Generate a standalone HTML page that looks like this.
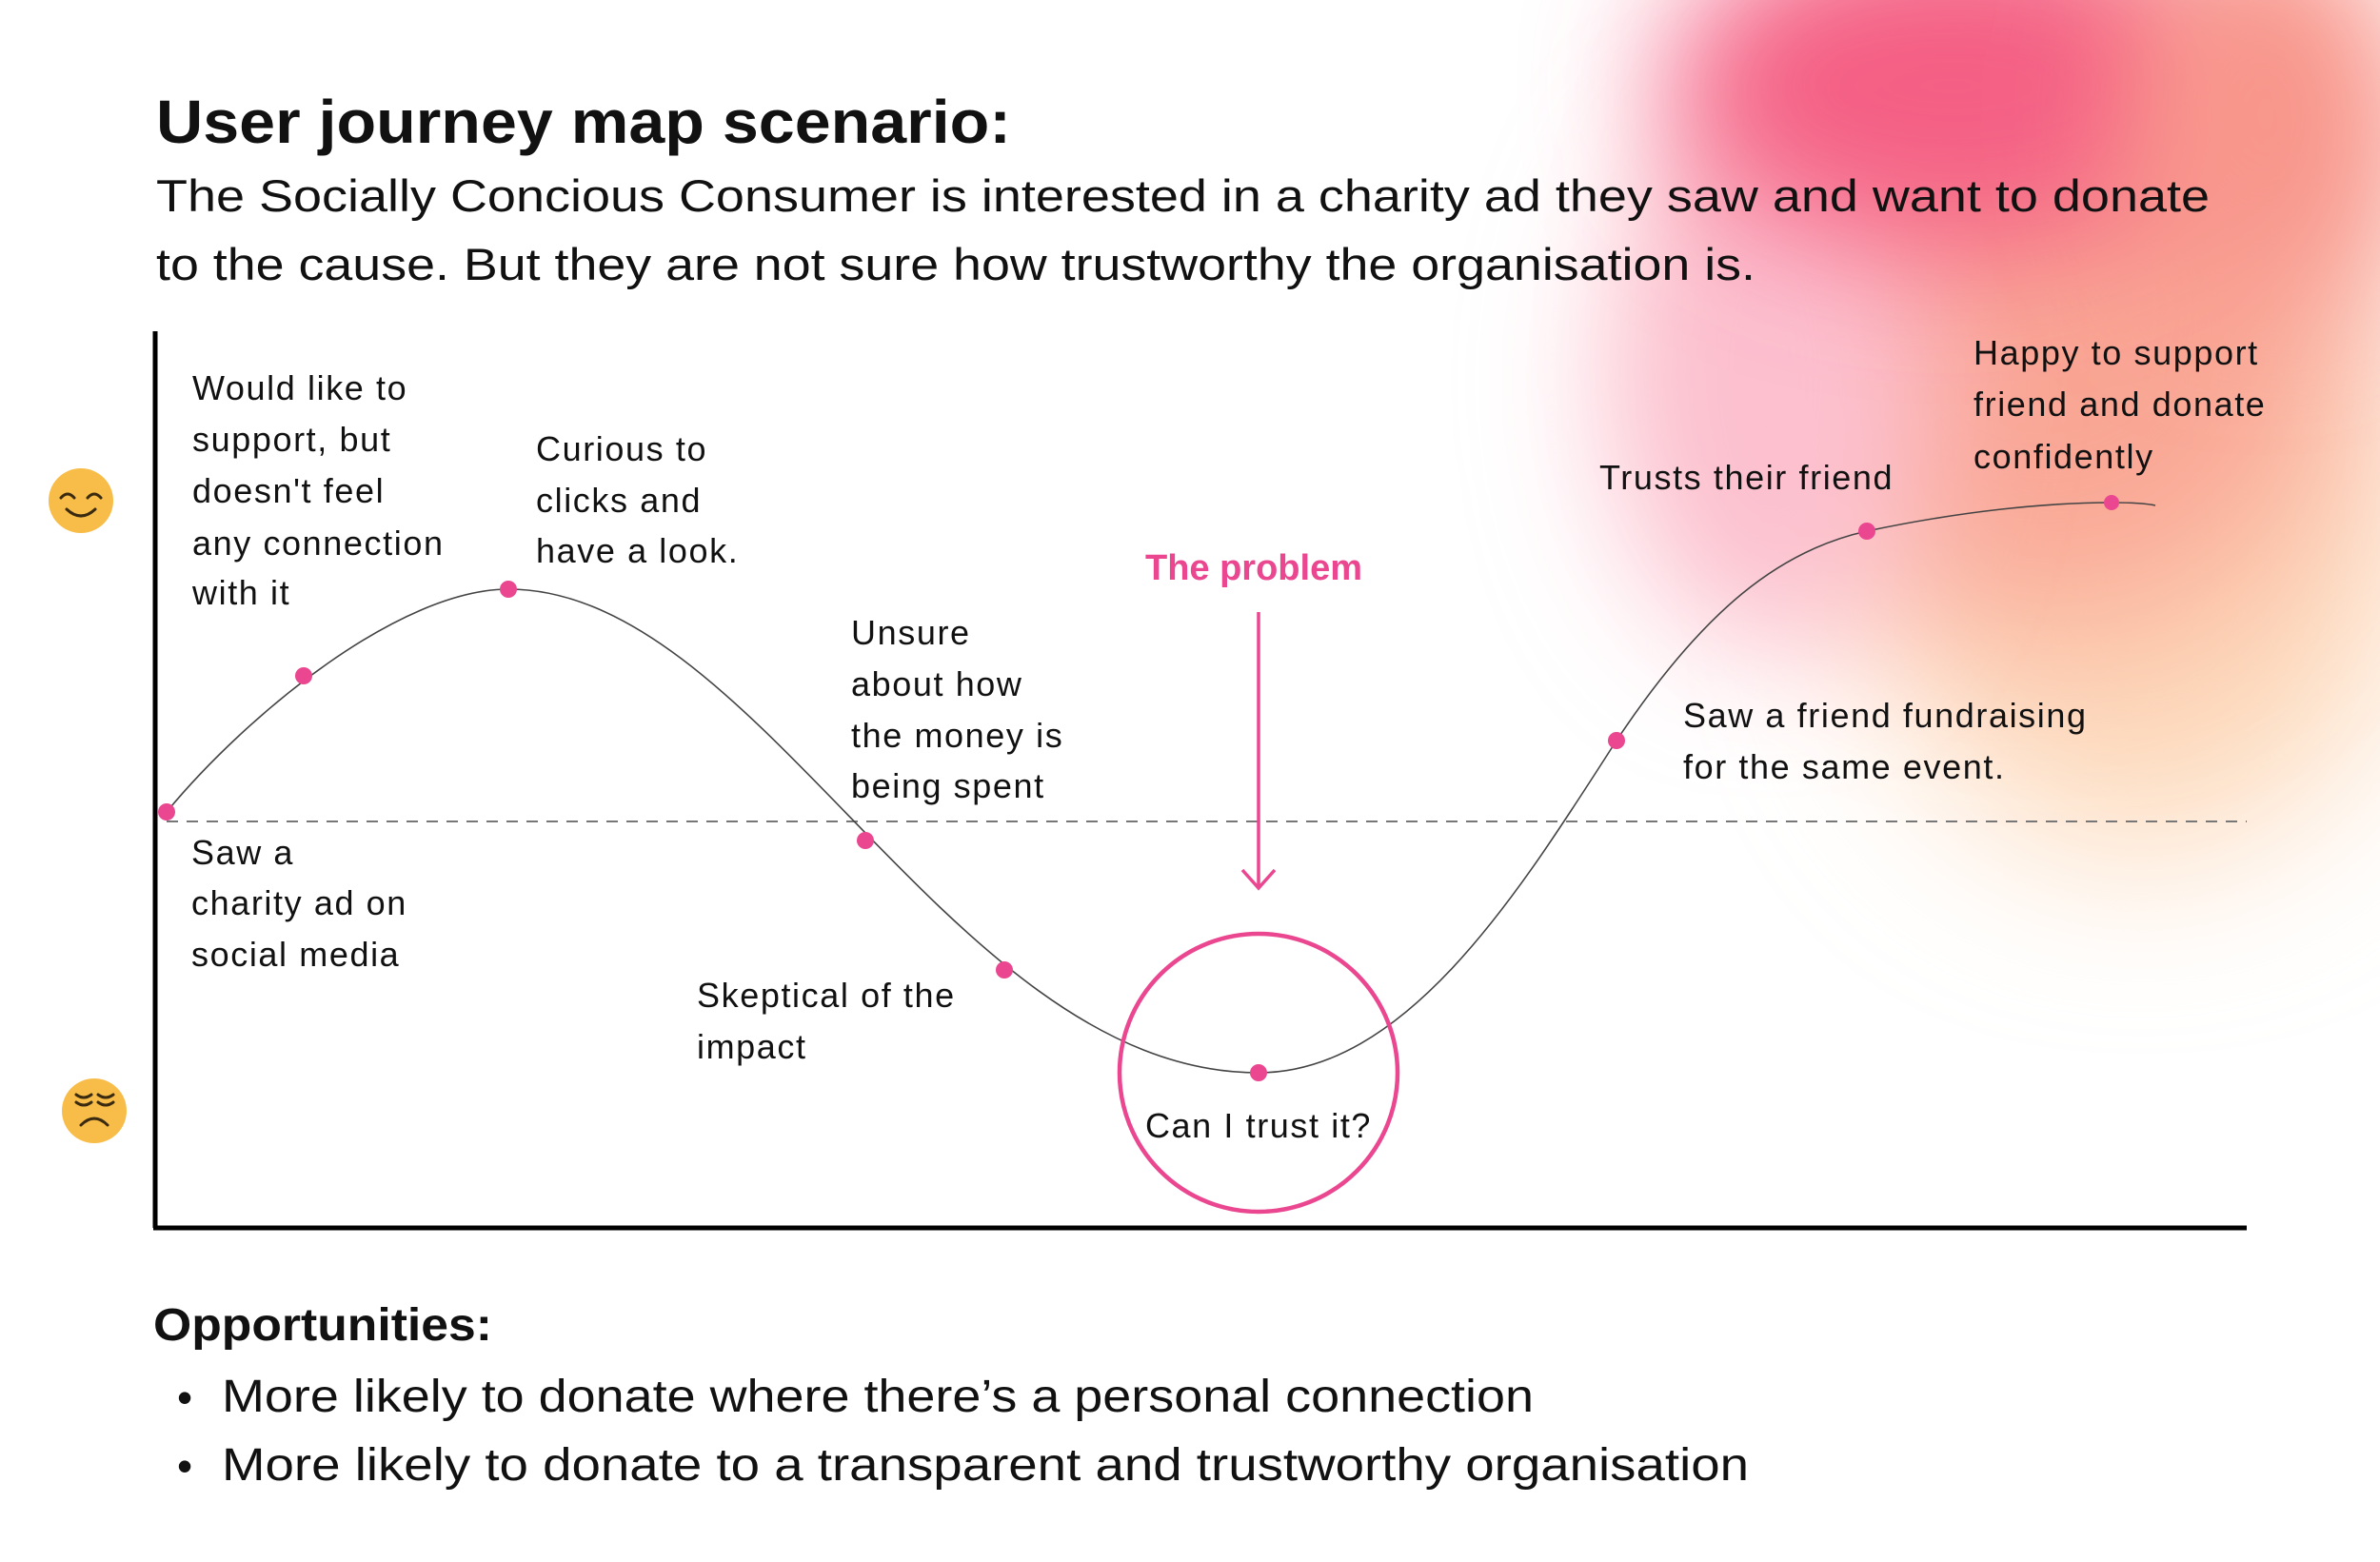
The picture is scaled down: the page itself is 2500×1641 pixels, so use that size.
<!DOCTYPE html>
<html><head><meta charset="utf-8"><style>
html,body{margin:0;padding:0;background:#fff}
svg{display:block}
text{font-family:"Liberation Sans",sans-serif;fill:#111}
.l{font-size:36px;letter-spacing:1.6px}
</style></head><body>
<svg width="2500" height="1641" viewBox="0 0 2500 1641" xmlns="http://www.w3.org/2000/svg">
<defs>
<filter id="b1" x="-50%" y="-50%" width="200%" height="200%"><feGaussianBlur stdDeviation="90"/></filter>
<filter id="b2" x="-50%" y="-50%" width="200%" height="200%"><feGaussianBlur stdDeviation="70"/></filter>
</defs>
<rect width="2500" height="1641" fill="#fff"/>
<g>
<ellipse cx="2250" cy="580" rx="280" ry="320" fill="#fdd9ba" filter="url(#b1)"/>
<ellipse cx="2150" cy="330" rx="330" ry="330" fill="#f9a694" filter="url(#b1)"/>
<ellipse cx="1860" cy="400" rx="170" ry="280" fill="#fcc0cf" filter="url(#b2)"/>
<ellipse cx="2050" cy="90" rx="300" ry="170" fill="#f45f84" filter="url(#b2)"/>
<ellipse cx="2380" cy="120" rx="150" ry="200" fill="#f8958a" filter="url(#b2)"/>
</g>
<text x="164" y="150" font-size="64" font-weight="bold" textLength="898" lengthAdjust="spacingAndGlyphs">User journey map scenario:</text>
<text x="164" y="222" font-size="47" textLength="2157" lengthAdjust="spacingAndGlyphs">The Socially Concious Consumer is interested in a charity ad they saw and want to donate</text>
<text x="164" y="294" font-size="47" textLength="1680" lengthAdjust="spacingAndGlyphs">to the cause. But they are not sure how trustworthy the organisation is.</text>

<line x1="163" y1="348" x2="163" y2="1290" stroke="#000" stroke-width="5"/>
<line x1="161" y1="1290" x2="2360" y2="1290" stroke="#000" stroke-width="5"/>
<line x1="175" y1="863" x2="2360" y2="863" stroke="#777" stroke-width="2" stroke-dasharray="12 9"/>

<path d="M175,853 C260,750 420,619 534,619 C800,619 1000,1127 1322,1127 C1480,1127 1600,930 1698,778 C1790,640 1870,578 1961,558 C2060,537 2150,528 2218,528 C2240,528 2255,529 2264,531" fill="none" stroke="#444" stroke-width="1.6"/>
<g fill="#ea4790">
<circle cx="175" cy="853" r="9"/><circle cx="319" cy="710" r="9"/><circle cx="534" cy="619" r="9"/>
<circle cx="909" cy="883" r="9"/><circle cx="1055" cy="1019" r="9"/><circle cx="1322" cy="1127" r="9"/>
<circle cx="1698" cy="778" r="9"/><circle cx="1961" cy="558" r="9"/><circle cx="2218" cy="528" r="8"/>
</g>
<circle cx="1322" cy="1127" r="146" fill="none" stroke="#ea4790" stroke-width="4.5"/>
<line x1="1322" y1="643" x2="1322" y2="933" stroke="#ea4790" stroke-width="3.5"/>
<polyline points="1305,914 1322,933 1339,914" fill="none" stroke="#ea4790" stroke-width="3.5"/>
<text x="1317" y="609" font-size="38" font-weight="bold" text-anchor="middle" style="fill:#ea4790">The problem</text>

<g class="l">
<text x="202" y="420">Would like to</text>
<text x="202" y="474">support, but</text>
<text x="202" y="528">doesn't feel</text>
<text x="202" y="583">any connection</text>
<text x="202" y="635">with it</text>
<text x="563" y="484">Curious to</text>
<text x="563" y="538">clicks and</text>
<text x="563" y="591">have a look.</text>
<text x="894" y="677">Unsure</text>
<text x="894" y="731">about how</text>
<text x="894" y="785">the money is</text>
<text x="894" y="838">being spent</text>
<text x="201" y="908">Saw a</text>
<text x="201" y="961">charity ad on</text>
<text x="201" y="1015">social media</text>
<text x="732" y="1058">Skeptical of the</text>
<text x="732" y="1112">impact</text>
<text x="1322" y="1195" text-anchor="middle">Can I trust it?</text>
<text x="1680" y="514">Trusts their friend</text>
<text x="2073" y="383">Happy to support</text>
<text x="2073" y="437">friend and donate</text>
<text x="2073" y="492">confidently</text>
<text x="1768" y="764">Saw a friend fundraising</text>
<text x="1768" y="818">for the same event.</text>
</g>

<g fill="#f7bd48">
<circle cx="85" cy="526" r="34"/><circle cx="99" cy="1167" r="34"/>
</g>
<g fill="none" stroke="#3a2a10" stroke-width="3" stroke-linecap="round">
<path d="M64,523 q7,-8 14,0"/><path d="M92,523 q7,-8 14,0"/><path d="M70,535 q15,14 30,0"/>
<path d="M80,1150 q8,6 16,0"/><path d="M80,1158 q8,6 16,0"/><path d="M103,1150 q8,6 16,0"/><path d="M103,1158 q8,6 16,0"/><path d="M85,1182 q14,-14 28,0"/>
</g>

<text x="161" y="1408" font-size="48" font-weight="bold" textLength="356" lengthAdjust="spacingAndGlyphs">Opportunities:</text>
<text x="186" y="1484" font-size="46">•</text>
<text x="233" y="1483" font-size="48" textLength="1378" lengthAdjust="spacingAndGlyphs">More likely to donate where there’s a personal connection</text>
<text x="186" y="1556" font-size="46">•</text>
<text x="233" y="1555" font-size="48" textLength="1604" lengthAdjust="spacingAndGlyphs">More likely to donate to a transparent and trustworthy organisation</text>
</svg>
</body></html>
